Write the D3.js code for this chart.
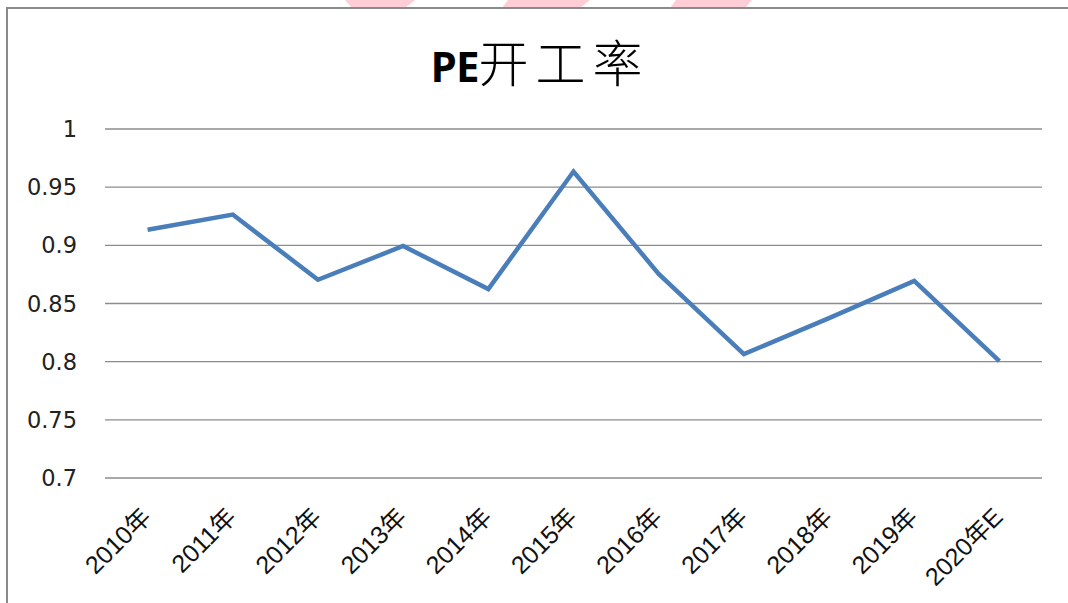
<!DOCTYPE html>
<html><head><meta charset="utf-8">
<script src="https://cdn.jsdelivr.net/npm/d3@7"></script>
<style>
html,body{margin:0;padding:0;background:#fff;}
svg{display:block;}
</style></head>
<body>
<svg id="chart" width="1068" height="603"></svg>
<script>
const categories = ["2010年","2011年","2012年","2013年","2014年","2015年","2016年","2017年","2018年","2019年","2020年E"];
const values = [0.913,0.926,0.870,0.899,0.862,0.963,0.875,0.806,0.837,0.869,0.800];
const yTicks = [0.7,0.75,0.8,0.85,0.9,0.95,1];
const yTickLabels = ["0.7","0.75","0.8","0.85","0.9","0.95","1"];
const title = "开工率";
const titlePrefix = "PE";

const svg = d3.select("#chart");
const m = {left:105, right:1042, top:128.5, bottom:477.5};

// watermark fragments above frame
const wm = svg.append("g").attr("fill","#ffcdd5");
wm.append("path").attr("d","M345,0 L415,0 L405,8 L352,8 Z");
wm.append("path").attr("d","M508,0 L590,0 L580,8 L502,8 Z");
wm.append("path").attr("d","M676,0 L752,0 L745,8 L670,8 Z");

// outer frame
svg.append("rect").attr("x",7).attr("y",8).attr("width",1080).attr("height",620)
  .attr("fill","#fff").attr("stroke","#8a8a8a").attr("stroke-width",2);

const x = d3.scaleBand().domain(categories).range([m.left,m.right]).padding(0);
const y = d3.scaleLinear().domain([0.7,1]).range([m.bottom,m.top]);

// gridlines + y labels
const yAxis = d3.axisLeft(y).tickValues(yTicks)
  .tickFormat((d,i)=>yTickLabels[i]).tickSize(-(m.right-m.left)).tickPadding(28);
const gy = svg.append("g").attr("transform",`translate(${m.left},0)`).call(yAxis);
gy.select(".domain").remove();
gy.selectAll(".tick line").attr("stroke","#8c8c8c").attr("stroke-width",1.3);
gy.selectAll(".tick text").attr("font-family","'DejaVu Sans', Verdana, sans-serif")
  .attr("font-size",22.5).attr("fill","#222").attr("dy","0.36em");

// x labels
const xAxis = d3.axisBottom(x).tickSize(0).tickPadding(0);
const gx = svg.append("g").attr("transform",`translate(0,${m.bottom})`).call(xAxis);
gx.select(".domain").remove();
gx.selectAll(".tick text")
  .attr("font-family","'Liberation Sans', Arial, 'Noto Sans CJK SC', sans-serif")
  .attr("font-size",25).attr("fill","#111")
  .attr("text-anchor","end").attr("dy",0).attr("y",0)
  .attr("transform","translate(5,41) rotate(-45)");

// line
const line = d3.line().x((d,i)=>x(categories[i])+x.bandwidth()/2).y(d=>y(d));
svg.append("path").datum(values).attr("d",line)
  .attr("fill","none").attr("stroke","#4a7ebb").attr("stroke-width",4.5)
  .attr("stroke-linejoin","miter");

// title
const t = svg.append("text").attr("x",540).attr("y",82).attr("text-anchor","middle")
  .attr("fill","#000");
t.append("tspan").attr("font-family","'Open Sans','Liberation Sans',sans-serif")
  .attr("font-weight","bold").attr("font-size",42).attr("letter-spacing",-1).text(titlePrefix);
t.append("tspan").attr("font-family","'Noto Sans CJK SC',sans-serif")
  .attr("font-weight","300").attr("font-size",50).attr("letter-spacing",7).text(title);
</script>
</body></html>
